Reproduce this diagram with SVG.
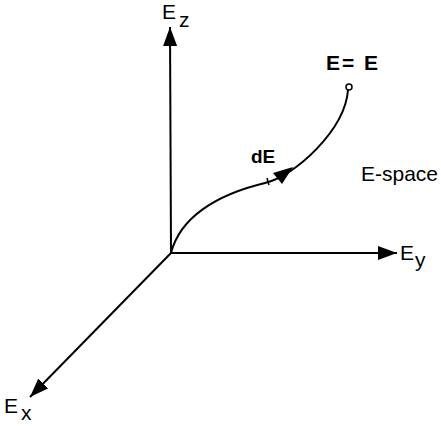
<svg xmlns="http://www.w3.org/2000/svg" width="441" height="426" viewBox="0 0 441 426">
  <style>
    .ax { stroke: #000; stroke-width: 2; fill: none; }
    .lbl { font-family: "Liberation Sans", Arial, sans-serif; font-size: 21px; fill: #000; }
    .bold { font-weight: bold; }
  </style>
  <defs>
    <marker id="arr" viewBox="0 -7 19 14" refX="19" refY="0" markerWidth="19" markerHeight="14" markerUnits="userSpaceOnUse" orient="auto">
      <path d="M0,-7 L19,0 L0,7 z" fill="#000"/>
    </marker>
  </defs>
  <rect width="441" height="426" fill="#fff"/>
  <g id="connectors">
    <line class="ax" x1="171" y1="253" x2="170" y2="27" marker-end="url(#arr)"/>
    <line class="ax" x1="171" y1="253" x2="397" y2="253" marker-end="url(#arr)"/>
    <line class="ax" x1="171" y1="253" x2="30" y2="397" marker-end="url(#arr)"/>
    <path class="ax" d="M171,253 C180,218 215,195 265,183 C295,176 345,130 348,90"/>
    <polygon points="293,167 273,173 282,184" fill="#000"/>
    <line x1="267" y1="178" x2="269" y2="185" stroke="#000" stroke-width="1.5"/>
  </g>
  <g id="axis-z">
    <text class="lbl" x="162" y="19">E<tspan dx="3" dy="8">z</tspan></text>
  </g>
  <g id="axis-y">
    <text class="lbl" x="400" y="260">E<tspan dx="1" dy="7">y</tspan></text>
  </g>
  <g id="axis-x">
    <text class="lbl" x="4" y="413">E<tspan dx="3" dy="7">x</tspan></text>
  </g>
  <g id="endpoint">
    <circle cx="349" cy="87" r="3" fill="#fff" stroke="#000" stroke-width="1.5"/>
    <text class="lbl bold" x="326" y="70" textLength="52" lengthAdjust="spacing">E= E</text>
  </g>
  <g id="dE-label">
    <text class="lbl bold" x="251" y="163" style="font-size:19px">dE</text>
  </g>
  <g id="space-label">
    <text class="lbl" x="361" y="181">E-space</text>
  </g>
</svg>
